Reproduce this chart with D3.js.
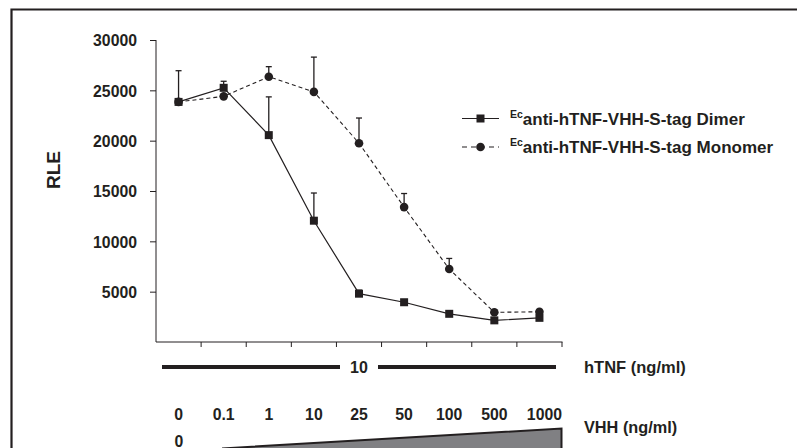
<!DOCTYPE html>
<html><head><meta charset="utf-8">
<script src="https://cdn.jsdelivr.net/npm/d3@7"></script>
<style>
html,body{margin:0;padding:0;background:#fff;}
text{font-family:"Liberation Sans",Arial,sans-serif;font-weight:bold;fill:#231f20;}
</style></head>
<body><svg id="c" width="797" height="448"></svg>
<script>
const categories = ["0","0.1","1","10","25","50","100","500","1000"];
const dimerValues = [23850, 25250, 20550, 12050, 4800, 3950, 2800, 2150, 2400];
const dimerErrors = [26950, 25900, 24350, 14800, 5150, 4150, 2950, 2350, 2650];
const monomerValues = [23850, 24400, 26350, 24850, 19750, 13400, 7250, 2950, 3000];
const monomerErrors = [23850, 24400, 27350, 28300, 22250, 14750, 8300, 3150, 3150];
const yTicks = [5000, 10000, 15000, 20000, 25000, 30000];
const seriesNames = ["anti-hTNF-VHH-S-tag Dimer", "anti-hTNF-VHH-S-tag Monomer"];
const hTNFLabel = "10";

const svg = d3.select("#c");
const ink = "#231f20";

// frame
svg.append("path").attr("d","M11.5,448 V9.5 H797").attr("fill","none").attr("stroke",ink).attr("stroke-width",2.2);

const x = d3.scaleBand().domain(categories).range([156,562]).padding(0);
const y = d3.scaleLinear().domain([0,30000]).range([342,40]);
const cx = c => x(c) + x.bandwidth()/2;

// y axis
const ya = svg.append("g").attr("transform","translate(156,0)")
  .call(d3.axisLeft(y).tickValues(yTicks).tickSize(6).tickPadding(13).tickFormat(d3.format("d")));
ya.select(".domain").attr("d","M0,40V342").attr("stroke",ink);
ya.selectAll("line").attr("stroke",ink);
ya.selectAll("text").style("font-size","15.8px").attr("fill",ink).attr("dy","0.36em");

// x axis (ticks at band boundaries)
const xa = svg.append("g").attr("transform","translate(0,342)");
xa.append("line").attr("x1",156).attr("x2",562.5).attr("stroke",ink);
xa.selectAll("line.t").data(categories).join("line").attr("class","t")
  .attr("x1",d=>x(d)+x.bandwidth()).attr("x2",d=>x(d)+x.bandwidth())
  .attr("y1",0).attr("y2",5).attr("stroke",ink);

svg.append("text").attr("transform","translate(60,170) rotate(-90)")
  .attr("text-anchor","middle").style("font-size","19px").text("RLE");

// lines
const line = d3.line().x((d,i)=>cx(categories[i])).y(d=>y(d));
svg.append("path").datum(monomerValues).attr("d",line).attr("fill","none")
  .attr("stroke",ink).attr("stroke-width",1.1).attr("stroke-dasharray","4,3");
svg.append("path").datum(dimerValues).attr("d",line).attr("fill","none")
  .attr("stroke",ink).attr("stroke-width",1.2);

// error bars
function errs(vals, tops){
  const g = svg.append("g").attr("stroke",ink).attr("stroke-width",1.3);
  vals.forEach((v,i)=>{
    if (tops[i] - v < 50) return;
    const X = cx(categories[i]);
    g.append("line").attr("x1",X).attr("x2",X).attr("y1",y(v)).attr("y2",y(tops[i]));
    g.append("line").attr("x1",X-3).attr("x2",X+3).attr("y1",y(tops[i])).attr("y2",y(tops[i]));
  });
}
errs(monomerValues, monomerErrors);
errs(dimerValues, dimerErrors);

// markers
svg.append("g").selectAll("circle").data(monomerValues).join("circle")
  .attr("cx",(d,i)=>cx(categories[i])).attr("cy",d=>y(d)).attr("r",4.3).attr("fill",ink);
svg.append("g").selectAll("rect").data(dimerValues).join("rect")
  .attr("x",(d,i)=>cx(categories[i])-4).attr("y",d=>y(d)-4).attr("width",8).attr("height",8).attr("fill",ink);

// legend
const lg = svg.append("g");
[0,1].forEach(k=>{
  const ly = k===0 ? 118.5 : 147;
  lg.append("line").attr("x1",462).attr("x2",499).attr("y1",ly).attr("y2",ly)
    .attr("stroke",ink).attr("stroke-width",1.1).attr("stroke-dasharray",k===0?null:"5,4");
  if (k===0) lg.append("rect").attr("x",476.5).attr("y",ly-4).attr("width",8).attr("height",8).attr("fill",ink);
  else lg.append("circle").attr("cx",480.5).attr("cy",ly).attr("r",4.3).attr("fill",ink);
  const t = lg.append("text").attr("x",510).attr("y",ly+6).style("font-size","17px");
  t.append("tspan").attr("dy","-7").style("font-size","10.5px").text("Ec");
  t.append("tspan").attr("dy","7").text(seriesNames[k]);
});

// hTNF bar
svg.append("line").attr("x1",162).attr("x2",340).attr("y1",367).attr("y2",367).attr("stroke",ink).attr("stroke-width",4);
svg.append("line").attr("x1",378).attr("x2",556).attr("y1",367).attr("y2",367).attr("stroke",ink).attr("stroke-width",4);
svg.append("text").attr("x",359).attr("y",373).attr("text-anchor","middle").style("font-size","16px").text(hTNFLabel);
svg.append("text").attr("x",584).attr("y",373).style("font-size","16.5px").text("hTNF (ng/ml)");

// VHH labels
svg.append("g").selectAll("text").data(categories).join("text")
  .attr("x",d=>cx(d)+(d==="1000"?5:0)).attr("y",420).attr("text-anchor","middle").style("font-size","15.8px").text(d=>d);
svg.append("text").attr("x",584).attr("y",433).style("font-size","16.3px").text("VHH (ng/ml)");
svg.append("text").attr("x",179).attr("y",446.5).attr("text-anchor","middle").style("font-size","15.8px").text(categories[0]);

// gradient triangle
svg.append("path").attr("d","M222,448.5 L561.5,428.5 V449 Z").attr("fill","#808083");
svg.append("path").attr("d","M222,448.5 L561.5,428.5 V449").attr("fill","none").attr("stroke",ink).attr("stroke-width",2);
</script></body></html>
